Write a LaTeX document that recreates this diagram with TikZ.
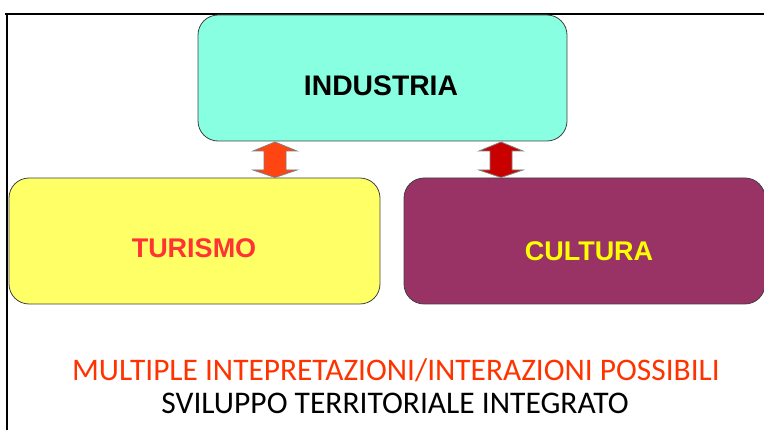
\documentclass[tikz,border=0pt]{standalone}
\usepackage{fontspec}
\setmainfont{Liberation Sans}
\newfontfamily\calib{Carlito}
\usetikzlibrary{calc}
\definecolor{aqua}{HTML}{88FFE0}
\definecolor{yel}{HTML}{FFFF66}
\definecolor{plum}{HTML}{993366}
\definecolor{turred}{HTML}{FF3333}
\definecolor{culyel}{HTML}{FFFF00}
\definecolor{arrA}{HTML}{FF4512}
\definecolor{arrB}{HTML}{C80000}
\definecolor{botred}{HTML}{FF3300}
\tikzset{
  box/.style={draw=black!75, line width=0.8pt, rounded corners=20pt},
  boxtext/.style={font=\fontsize{27}{30}\selectfont\bfseries},
  dbl/.style={draw=gray, line width=0.8pt, line join=miter},
}
\begin{document}
\begin{tikzpicture}[x=1pt,y=-1pt]
\useasboundingbox (0,0) rectangle (764,430);
\clip (0,0) rectangle (764,430);
% frame
\draw[line width=2pt] (5,14) -- (766,14);
\draw[line width=2pt] (7,14) -- (7,432);
% boxes
\draw[box, fill=aqua] (198,15) rectangle (567,141);
\draw[box, fill=yel] (9,178) rectangle (380,304);
\draw[box, fill=plum] (404,178) rectangle (765,304);
\node[boxtext, font=\fontsize{28.3}{30}\selectfont\bfseries, text=black] (ind) at (381,86) {INDUSTRIA};
\node[boxtext, text=turred] (tur) at (194,248) {TURISMO};
\node[boxtext, text=culyel] (cul) at (589,251) {CULTURA};
\coordinate (ab) at (275,141);
\coordinate (ae) at (275,178);
\coordinate (bb) at (501,141);
\coordinate (be) at (501,178);
% double arrows
\draw[dbl, fill=arrA] ($(ab)+(0,1)$) -- ++(22,9) -- ++(-11,0) -- ($(ae)+(11,-8)$) -- ++(11,0) -- ($(ae)+(0,-0.5)$) -- ++(-22,-7.5) -- ++(11,0) -- ($(ab)+(-11,10)$) -- ++(-11,0) -- cycle;
\draw[dbl, fill=arrB] ($(bb)+(0,1)$) -- ++(22,9) -- ++(-11,0) -- ($(be)+(11,-8)$) -- ++(11,0) -- ($(be)+(0,-0.5)$) -- ++(-22,-7.5) -- ++(11,0) -- ($(bb)+(-11,10)$) -- ++(-11,0) -- cycle;
% bottom text
\node[font=\calib\fontsize{31.4}{34}\selectfont, text=botred] (t1) at (396,370) {MULTIPLE INTEPRETAZIONI/INTERAZIONI POSSIBILI};
\node[font=\calib\fontsize{31.5}{34}\selectfont, text=black] (t2) at (395,403) {SVILUPPO TERRITORIALE INTEGRATO};
\end{tikzpicture}
\end{document}
